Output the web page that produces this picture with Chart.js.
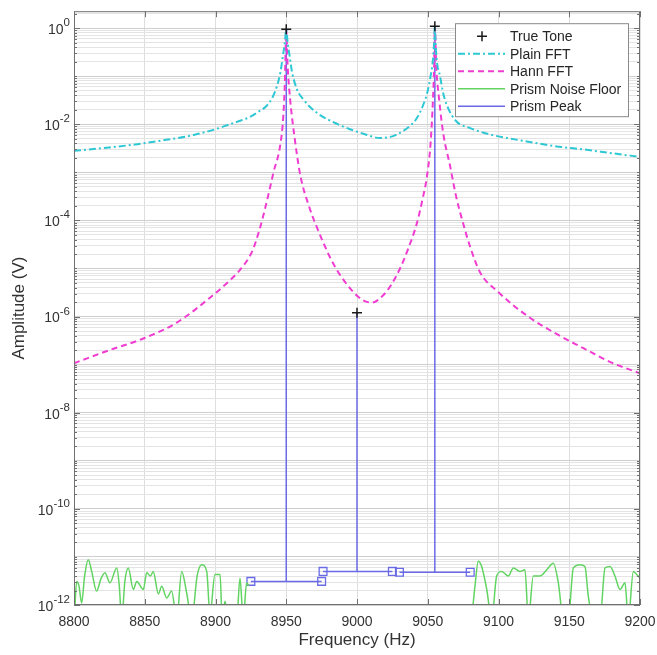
<!DOCTYPE html>
<html>
<head>
<meta charset="utf-8">
<script src="https://cdn.jsdelivr.net/npm/chart.js@4"></script>
<style>
  html, body { margin: 0; padding: 0; background: #fff; }
</style>
</head>
<body>
<canvas id="spectrum" width="657" height="655"></canvas>
<script>
// values
const toneFreq = [8950, 9000, 9055];
const toneAmp = [0.95, 1.2e-6, 1.1];

const plainFreq = [8800, 8820, 8840, 8860, 8880, 8900, 8910, 8918, 8924, 8930, 8936, 8940, 8943.5, 8946, 8947.5,
  8949, 8950, 8951, 8952.5, 8954, 8957.5, 8962, 8972, 8985, 8995, 9005, 9016, 9025, 9032, 9037.5,
  9042, 9046.5, 9050, 9052, 9053.5, 9054.5, 9055, 9055.5, 9056.5, 9058.7, 9060.5, 9063.5, 9070, 9080, 9090,
  9100, 9120, 9140, 9160, 9180, 9200];
const plainAmp = [2.8e-3, 3.2e-3, 3.7e-3, 4.5e-3, 5.6e-3, 7.9e-3, 1.0e-2, 1.2e-2, 1.4e-2, 1.8e-2, 2.4e-2, 3.5e-2, 6.3e-2, 0.126, 0.25,
  0.5, 0.93, 0.5, 0.25, 0.126, 5.4e-2, 3.3e-2, 1.7e-2, 1.05e-2, 7.9e-3, 6.3e-3, 5.2e-3, 5.6e-3, 7.1e-3, 9.3e-3,
  1.3e-2, 2.4e-2, 5.0e-2, 0.1, 0.2, 0.5, 1.1, 0.5, 0.2, 0.1, 5.0e-2, 2.5e-2, 1.17e-2, 8.3e-3, 6.6e-3,
  5.6e-3, 4.4e-3, 3.5e-3, 3.0e-3, 2.5e-3, 2.1e-3];

const hannFreq = [8800, 8825, 8849, 8873, 8898, 8910, 8917, 8926, 8931, 8936, 8941, 8946, 8948, 8949, 8950,
  8951, 8952.7, 8956, 8960, 8966, 8972, 8983, 8995, 9004, 9010.6, 9018.4, 9024, 9030.4, 9036, 9042.4,
  9046, 9049.5, 9052, 9053.7, 9054.5, 9055, 9056, 9058, 9061, 9065.7, 9070, 9074.9, 9080, 9087, 9100,
  9120, 9140, 9160, 9180, 9200];
const hannAmp = [1.07e-7, 2.0e-7, 3.5e-7, 7.6e-7, 2.75e-6, 5.6e-6, 9.1e-6, 2.3e-5, 6.3e-5, 2.3e-4, 1.0e-3, 4.1e-3, 1.6e-2, 7.2e-2, 0.93,
  0.16, 3.4e-2, 5.0e-3, 8.5e-4, 2.0e-4, 6.8e-5, 1.3e-5, 3.9e-6, 2.2e-6, 1.95e-6, 2.75e-6, 4.5e-6, 1.0e-5, 2.5e-5, 8.9e-5,
  2.5e-4, 8.5e-4, 4.0e-3, 3.4e-2, 0.16, 1.1, 0.16, 3.4e-2, 6.3e-3, 1.4e-3, 3.2e-4, 8.9e-5, 2.8e-5, 8.3e-6, 3.2e-6,
  1.05e-6, 4.5e-7, 2.2e-7, 1.1e-7, 6.6e-8];

const noiseFreqLo = [8800.2, 8801.9, 8803.5, 8805.4, 8807.5, 8810.1, 8812.5, 8816, 8819, 8821.9, 8825.4, 8830.2, 8832, 8833.7, 8836,
  8838.4, 8841.9, 8844.3, 8849, 8851.4, 8854, 8856, 8859.6, 8862, 8865.5, 8869, 8872.6, 8876.1, 8879.6, 8883.2,
  8887, 8890.2, 8893.8, 8896.1, 8899.6, 8903.2, 8904.8, 8906.7, 8909, 8915, 8917.3, 8919.6, 8922, 8923.5];
const noiseAmpLo = [5e-13, 3.1e-12, 2.5e-12, 1.1e-12, 4.0e-12, 8.7e-12, 5.0e-12, 1.95e-12, 3.5e-12, 4.7e-12, 2.9e-12, 5.9e-12, 2.5e-12, 5e-13, 3.2e-12,
  5.9e-12, 2.1e-12, 3.1e-12, 2.1e-12, 4.7e-12, 4.0e-12, 5.0e-12, 1.7e-12, 2.45e-12, 1.4e-12, 1.95e-12, 5e-13, 5.0e-12, 1.8e-12, 5e-13,
  4.0e-12, 6.9e-12, 5.0e-12, 6.3e-13, 4.3e-12, 4.3e-12, 5e-13, 1.2e-12, 5e-13, 5e-13, 3.6e-12, 5e-13, 2.9e-12, 2.5e-12];
const noiseFreqHi = [9081, 9083.4, 9085.7, 9088.1, 9091.7, 9095.2, 9098.7, 9102.3, 9106.9, 9110.5, 9115.2, 9118.7, 9121.1, 9124.6, 9129.3,
  9134.1, 9138.7, 9142.3, 9145.8, 9149.3, 9152.9, 9157.6, 9161.1, 9163.5, 9167, 9171.7, 9175.3, 9178.8, 9182.3, 9185.9,
  9189.4, 9191.7, 9195.3, 9197.7, 9200];
const noiseAmpHi = [5e-13, 2.5e-12, 8.1e-12, 6.3e-12, 2.1e-12, 5e-13, 4.0e-12, 5.0e-12, 4.0e-12, 5.9e-12, 5.0e-12, 5.4e-12, 5e-13, 4.0e-12, 4.0e-12,
  5.4e-12, 7.4e-12, 2.9e-12, 5e-13, 5e-13, 5.9e-12, 6.9e-12, 6.3e-12, 1.5e-12, 5e-13, 5e-13, 5.9e-12, 6.3e-12, 4.0e-12, 2.1e-12,
  2.9e-12, 5e-13, 5.0e-12, 4.3e-12, 3.6e-12];

// prism bands: one per detected tone
const bandLo = [8925, 8976, 9030];
const bandHi = [8975, 9025, 9080];
const bandLevel = [3.1e-12, 5.0e-12, 4.8e-12];

const xTicks = [8800, 8850, 8900, 8950, 9000, 9050, 9100, 9150, 9200];
const yDecades = [-12, -11, -10, -9, -8, -7, -6, -5, -4, -3, -2, -1, 0];
const yLabelled = [-12, -10, -8, -6, -4, -2, 0];

const FONT = '"Liberation Sans", Arial, Helvetica, sans-serif';
Chart.defaults.font.family = FONT;

const zip = (xs, ys) => xs.map((x, i) => ({ x, y: ys[i] }));

// prism peak: horizontal band segments with square ends, plus a stem per tone
const prismPts = [];
const prismMark = [];
for (let i = 0; i < toneFreq.length; i++) {
  prismPts.push({ x: bandLo[i], y: bandLevel[i] }, { x: bandHi[i], y: bandLevel[i] }, { x: bandHi[i], y: null });
  prismMark.push(1, 1, 0);
  prismPts.push({ x: toneFreq[i], y: bandLevel[i] }, { x: toneFreq[i], y: toneAmp[i] }, { x: toneFreq[i], y: null });
  prismMark.push(0, 0, 0);
}

const noisePts = zip(noiseFreqLo, noiseAmpLo).concat([{ x: 9000, y: null }], zip(noiseFreqHi, noiseAmpHi));

// y grid at every 1..9 x 10^k
const yGrid = [];
yDecades.forEach((e) => {
  for (let m = 1; m <= 9; m++) {
    const v = m * Math.pow(10, e);
    if (v <= 2.25) yGrid.push(v);
  }
});

function decadeOf(v) {
  const e = Math.round(Math.log10(v));
  return Math.abs(v / Math.pow(10, e) - 1) < 1e-6 ? e : null;
}

// "10" with a raised exponent, placed on the y scale
const powerLabels = {
  id: "powerLabels",
  afterDraw(chart) {
    const { ctx, chartArea: a, scales } = chart;
    ctx.save();
    ctx.fillStyle = "#333";
    ctx.textAlign = "left";
    yLabelled.forEach((e) => {
      const py = scales.y.getPixelForValue(Math.pow(10, e));
      const exp = String(e);
      ctx.font = "11.5px " + FONT;
      const ew = ctx.measureText(exp).width;
      ctx.font = "14px " + FONT;
      const bw = ctx.measureText("10").width;
      const right = a.left - 4;
      ctx.textBaseline = "middle";
      ctx.fillText("10", right - ew - bw, py + 2);
      ctx.font = "11.5px " + FONT;
      ctx.textBaseline = "alphabetic";
      ctx.fillText(exp, right - ew, py - 2);
    });
    ctx.restore();
  },
};

const frameTicks = {
  id: "frameTicks",
  afterDatasetsDraw(chart) {
    const { ctx, chartArea: a, scales } = chart;
    ctx.save();
    ctx.strokeStyle = "#707070";
    ctx.lineWidth = 1;
    ctx.beginPath();
    scales.x.ticks.forEach((t) => {
      const px = Math.round(scales.x.getPixelForValue(t.value)) + 0.5;
      ctx.moveTo(px, a.bottom); ctx.lineTo(px, a.bottom - 6);
      ctx.moveTo(px, a.top); ctx.lineTo(px, a.top + 6);
    });
    scales.y.ticks.forEach((t) => {
      const py = Math.round(scales.y.getPixelForValue(t.value)) + 0.5;
      const e = decadeOf(t.value);
      const len = e !== null && yLabelled.includes(e) ? 6 : 3;
      ctx.moveTo(a.left, py); ctx.lineTo(a.left + len, py);
      ctx.moveTo(a.right, py); ctx.lineTo(a.right - len, py);
    });
    ctx.stroke();
    ctx.strokeRect(a.left + 0.5, a.top + 0.5, a.right - a.left - 1, a.bottom - a.top - 1);
    ctx.restore();
  },
};

const boxLegend = {
  id: "boxLegend",
  afterDraw(chart) {
    const { ctx, chartArea: a } = chart;
    const w = 173, h = 93;
    const x0 = a.right - 12 - w, y0 = a.top + 12;
    ctx.save();
    ctx.fillStyle = "#fff";
    ctx.fillRect(x0, y0, w, h);
    ctx.strokeStyle = "#8a8a8a";
    ctx.lineWidth = 1;
    ctx.strokeRect(x0 + 0.5, y0 + 0.5, w, h);
    ctx.font = "14px " + FONT;
    ctx.textBaseline = "middle";
    chart.data.datasets.forEach((ds, i) => {
      const y = y0 + 13 + i * 17.5;
      ctx.strokeStyle = ds.borderColor;
      ctx.lineWidth = ds.borderWidth;
      if (ds.showLine === false) {
        const cx = x0 + 27, r = 5;
        ctx.setLineDash([]);
        ctx.beginPath();
        ctx.moveTo(cx - r, y); ctx.lineTo(cx + r, y);
        ctx.moveTo(cx, y - r); ctx.lineTo(cx, y + r);
        ctx.stroke();
      } else {
        ctx.setLineDash(ds.borderDash || []);
        ctx.beginPath();
        ctx.moveTo(x0 + 3, y); ctx.lineTo(x0 + 50, y);
        ctx.stroke();
      }
      ctx.setLineDash([]);
      ctx.fillStyle = "#262626";
      ctx.fillText(ds.label, x0 + 55, y + 1);
    });
    ctx.restore();
  },
};

new Chart(document.getElementById("spectrum"), {
  type: "line",
  data: {
    datasets: [
      {
        label: "True Tone",
        data: zip(toneFreq, toneAmp),
        showLine: false,
        pointStyle: "cross",
        pointRadius: 5,
        pointBorderWidth: 1.5,
        borderColor: "#1a1a1a",
        borderWidth: 1.5,
      },
      {
        label: "Plain FFT",
        data: zip(plainFreq, plainAmp),
        borderColor: "#2ec8d4",
        borderWidth: 2,
        borderDash: [7, 3, 2, 3],
        pointRadius: 0,
        cubicInterpolationMode: "monotone",
      },
      {
        label: "Hann FFT",
        data: zip(hannFreq, hannAmp),
        borderColor: "#f03cd0",
        borderWidth: 2,
        borderDash: [6, 4],
        pointRadius: 0,
        cubicInterpolationMode: "monotone",
      },
      {
        label: "Prism Noise Floor",
        data: noisePts,
        borderColor: "#62d462",
        borderWidth: 1.5,
        pointRadius: 0,
        spanGaps: false,
        cubicInterpolationMode: "monotone",
      },
      {
        label: "Prism Peak",
        data: prismPts,
        borderColor: "#6a6ae6",
        borderWidth: 1.5,
        spanGaps: false,
        pointStyle: "rect",
        pointRadius: (c) => (prismMark[c.dataIndex] ? 5.5 : 0),
        pointBorderWidth: 1.3,
        pointBorderColor: "#6a6ae6",
        pointBackgroundColor: "rgba(255,255,255,0)",
      },
    ],
  },
  options: {
    responsive: false,
    animation: false,
    events: [],
    layout: { padding: { left: 0, right: 17, top: 10, bottom: 0 } },
    plugins: { legend: { display: false }, tooltip: { enabled: false } },
    scales: {
      x: {
        type: "linear",
        min: 8800,
        max: 9200,
        afterBuildTicks: (s) => { s.ticks = xTicks.map((v) => ({ value: v })); },
        afterFit: (s) => { s.height = 50; s.paddingLeft = 0; s.paddingRight = 0; },
        ticks: { autoSkip: false, maxRotation: 0, padding: 9, color: "#333", font: { size: 14 }, callback: (v) => String(v) },
        grid: { color: "#dedede", drawTicks: false },
        border: { display: false },
        title: { display: true, text: "Frequency (Hz)", color: "#333", font: { size: 17 }, padding: { top: 0, bottom: 4 } },
      },
      y: {
        type: "logarithmic",
        min: 1e-12,
        max: 2.25,
        afterBuildTicks: (s) => { s.ticks = yGrid.map((v) => ({ value: v })); },
        afterFit: (s) => { s.width = 74; },
        ticks: { autoSkip: false, padding: 4, callback: () => "" },
        grid: {
          drawTicks: false,
          color: (c) => (c.tick && decadeOf(c.tick.value) !== null ? "#cfcfcf" : "#e4e4e4"),
        },
        border: { display: false },
        title: { display: true, text: "Amplitude (V)", color: "#333", font: { size: 17 }, padding: { top: 9, bottom: 0 } },
      },
    },
  },
  plugins: [frameTicks, powerLabels, boxLegend],
});
</script>
</body>
</html>
